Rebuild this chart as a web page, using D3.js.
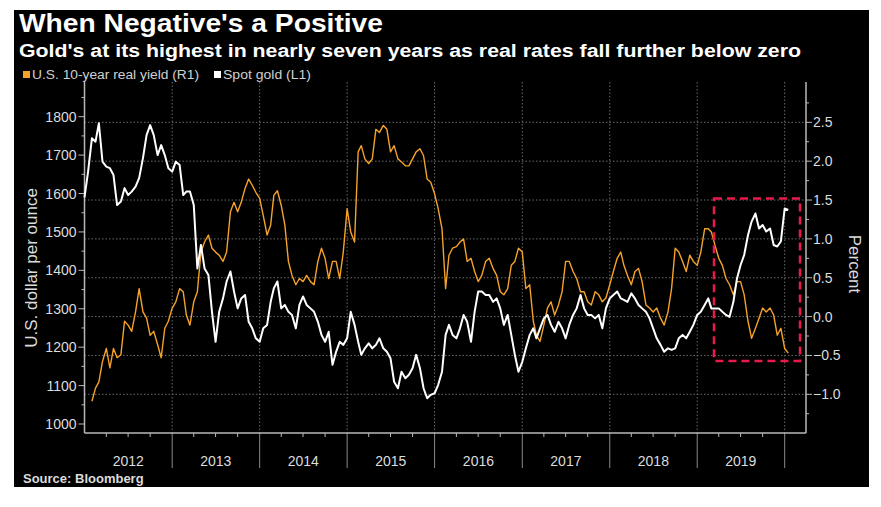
<!DOCTYPE html>
<html><head><meta charset="utf-8">
<script src="https://cdn.jsdelivr.net/npm/d3@7"></script>
<style>
html,body{margin:0;padding:0;background:#fff;}
svg{display:block;}
text{font-family:"Liberation Sans",Arial,sans-serif;}
</style></head><body>
<svg id="chart" width="881" height="507"></svg>
<script>
// ---------------- DATA ----------------
const titleText = "When Negative's a Positive";
const subtitleText = "Gold's at its highest in nearly seven years as real rates fall further below zero";
const sourceText = "Source: Bloomberg";
const seriesNames = ["U.S. 10-year real yield (R1)", "Spot gold (L1)"];
const seriesColors = ["#f5a22a", "#ffffff"];
const yearLabels = ["2012","2013","2014","2015","2016","2017","2018","2019"];
const goldTicks = [1000,1100,1200,1300,1400,1500,1600,1700,1800];
const yieldTicks = [-1.0,-0.5,0.0,0.5,1.0,1.5,2.0,2.5];
const leftAxisTitle = "U.S. dollar per ounce";
const rightAxisTitle = "Percent";

// semi-monthly observations (1st and 16th of each month)
const goldStart = "2012-01-01";
const goldValues = [
 1590,1657,1744,1735,1783,1683,1670,1666,1648,1570,1579,1614,1596,1605,1618,1640,1692,1752,1778,1752,1700,1726,1700,1666,
 1657,1683,1674,1596,1605,1605,1570,1405,1466,1405,1388,1292,1214,1292,1327,1371,1397,1345,1301,1327,1336,1266,1249,1223,
 1214,1249,1258,1318,1353,1371,1301,1310,1292,1284,1249,1310,1332,1310,1301,1292,1266,1232,1214,1240,1154,1188,1214,1206,
 1223,1292,1258,1214,1180,1197,1210,1197,1206,1223,1197,1188,1171,1110,1093,1136,1119,1128,1145,1180,1145,1093,1067,1076,
 1080,1102,1136,1232,1258,1232,1223,1249,1284,1266,1214,1292,1345,1345,1336,1336,1318,1327,1301,1258,1284,1232,1180,1136,
 1162,1197,1232,1249,1223,1249,1275,1284,1258,1240,1266,1249,1223,1258,1284,1301,1336,1301,1284,1284,1275,1284,1249,1301,
 1327,1336,1345,1327,1323,1318,1340,1327,1310,1301,1292,1275,1249,1223,1206,1188,1197,1193,1197,1223,1232,1223,1240,1258,
 1284,1292,1310,1327,1301,1301,1301,1292,1284,1279,1318,1379,1414,1440,1492,1527,1548,1509,1518,1501,1509,1466,1462,1475,
 1561,1557
];
const yieldStart = "2012-02-01";
const yieldValues = [
 -1.09,-0.92,-0.84,-0.58,-0.41,-0.66,-0.41,-0.53,-0.49,-0.06,-0.11,-0.19,0.06,0.36,0.06,-0.02,-0.24,-0.19,-0.36,-0.53,-0.15,-0.06,
 0.11,0.19,0.36,0.32,0.02,-0.11,0.19,0.32,0.83,0.96,1.05,0.88,0.83,0.79,0.71,0.83,1.35,1.47,1.35,1.47,1.65,1.77,1.69,1.60,
 1.52,1.30,1.05,1.18,1.56,1.62,1.43,1.18,0.71,0.53,0.41,0.49,0.45,0.53,0.45,0.41,0.71,0.88,0.75,0.49,0.71,0.71,0.49,0.83,
 1.39,1.09,0.96,2.12,2.20,2.03,1.97,2.03,2.41,2.37,2.46,2.41,2.12,2.20,2.03,1.99,1.94,1.94,2.03,2.12,2.16,2.07,1.77,1.73,
 1.58,1.39,1.13,0.36,0.79,0.88,0.90,0.96,1.00,0.71,0.75,0.58,0.45,0.53,0.71,0.75,0.62,0.53,0.32,0.28,0.36,0.66,0.71,0.88,
 0.83,0.36,0.41,-0.06,-0.24,-0.32,-0.11,0.11,0.19,0.02,0.15,0.32,0.71,0.71,0.58,0.49,0.32,0.32,0.19,0.15,0.32,0.28,0.19,0.24,
 0.41,0.58,0.75,0.83,0.66,0.53,0.41,0.58,0.62,0.45,0.15,0.11,0.06,0.11,-0.02,-0.11,0.06,0.36,0.88,0.83,0.71,0.58,0.79,0.71,
 0.66,0.83,1.13,1.13,1.09,0.92,0.75,0.66,0.49,0.41,0.28,0.45,0.45,0.28,-0.06,-0.28,-0.15,-0.02,0.11,0.06,0.11,0.02,-0.24,-0.15,
 -0.41,-0.47
];
// highlighted region (red dashed box)
const highlightDates = ["2019-03-12","2020-03-05"];
const highlightYield = [-0.57, 1.52];

// ---------------- HELPERS ----------------
const parse = d3.timeParse("%Y-%m-%d");
function semiMonthly(start, n){
  const s = parse(start); const out = [];
  for(let i=0;i<n;i++){
    const m = s.getMonth() + Math.floor(i/2);
    out.push(new Date(s.getFullYear(), m, i%2 ? 16 : 1));
  }
  return out;
}
const goldData = semiMonthly(goldStart, goldValues.length).map((d,i)=>({date:d, v:goldValues[i]}));
const yieldData = semiMonthly(yieldStart, yieldValues.length).map((d,i)=>({date:d, v:yieldValues[i]}));

// ---------------- LAYOUT ----------------
const svg = d3.select("#chart");
const L = 84.5, R = 806, T = 82, B = 433;

svg.append("rect").attr("x",14).attr("y",10).attr("width",855).attr("height",477).attr("fill","#000");

const x = d3.scaleTime().domain([new Date(2012,0,1), new Date(2020,2,30)]).range([L,R]);
const yG = d3.scaleLinear().domain([976.6, 1890.3]).range([B,T]);
const yY = d3.scaleLinear().domain([-1.498, 3.019]).range([B,T]);

// horizontal gridlines (right axis majors)
svg.append("g").selectAll("line").data(yieldTicks).join("line")
  .attr("x1",L).attr("x2",R).attr("y1",d=>yY(d)).attr("y2",d=>yY(d))
  .attr("stroke","#6a6a6a").attr("stroke-width",1).attr("stroke-dasharray","1.5,2");

// vertical year gridlines and separators
const yearStarts = yearLabels.map(y=>new Date(+y+1,0,1));
svg.append("g").selectAll("line").data(yearStarts).join("line")
  .attr("x1",d=>x(d)).attr("x2",d=>x(d)).attr("y1",T).attr("y2",B)
  .attr("stroke","#6a6a6a").attr("stroke-width",1).attr("stroke-dasharray","1.5,2");
svg.append("g").selectAll("line").data(yearStarts).join("line")
  .attr("x1",d=>x(d)).attr("x2",d=>x(d)).attr("y1",B).attr("y2",468)
  .attr("stroke","#8a8a8a").attr("stroke-width",1);

// x axis
const axisColor = "#b8b8b8", labelColor = "#dcdcdc";
svg.append("line").attr("x1",L).attr("x2",R).attr("y1",B).attr("y2",B).attr("stroke",axisColor).attr("stroke-width",1.5);
const quarters = d3.timeMonth.every(3).range(new Date(2012,0,1), new Date(2020,2,30)).filter(d=>d.getMonth()!==0);
svg.append("g").selectAll("line").data(quarters).join("line")
  .attr("x1",d=>x(d)).attr("x2",d=>x(d)).attr("y1",B).attr("y2",B+4).attr("stroke",axisColor);
svg.append("g").selectAll("text").data(yearLabels).join("text")
  .attr("x",d=>x(new Date(+d,6,2))).attr("y",466).attr("text-anchor","middle")
  .attr("font-size",14).attr("fill",labelColor).text(d=>d);

// left axis
svg.append("line").attr("x1",L).attr("x2",L).attr("y1",T).attr("y2",B).attr("stroke",axisColor).attr("stroke-width",1.5);
const goldMinor = d3.range(1050, 1900, 100);
svg.append("g").selectAll("line").data(goldTicks).join("line")
  .attr("x1",L-6).attr("x2",L).attr("y1",d=>yG(d)).attr("y2",d=>yG(d)).attr("stroke",axisColor);
svg.append("g").selectAll("line").data(goldMinor).join("line")
  .attr("x1",L-3).attr("x2",L).attr("y1",d=>yG(d)).attr("y2",d=>yG(d)).attr("stroke",axisColor);
svg.append("g").selectAll("text").data(goldTicks).join("text")
  .attr("x",L-8).attr("y",d=>yG(d)+5).attr("text-anchor","end")
  .attr("font-size",14).attr("fill",labelColor).text(d=>d);

// right axis
svg.append("line").attr("x1",R).attr("x2",R).attr("y1",T).attr("y2",B).attr("stroke",axisColor).attr("stroke-width",1.5);
const yieldMinor = [-1.25,-0.75,-0.25,0.25,0.75,1.25,1.75,2.25,2.75];
svg.append("g").selectAll("line").data(yieldTicks).join("line")
  .attr("x1",R).attr("x2",R+6).attr("y1",d=>yY(d)).attr("y2",d=>yY(d)).attr("stroke",axisColor);
svg.append("g").selectAll("line").data(yieldMinor).join("line")
  .attr("x1",R).attr("x2",R+3).attr("y1",d=>yY(d)).attr("y2",d=>yY(d)).attr("stroke",axisColor);
svg.append("g").selectAll("text").data(yieldTicks).join("text")
  .attr("x",R+7).attr("y",d=>yY(d)+5).attr("text-anchor","start")
  .attr("font-size",14).attr("fill",labelColor).text(d=>d3.format(".1f")(d));

// axis titles
svg.append("text").attr("transform","translate(37,268) rotate(-90)").attr("text-anchor","middle")
  .attr("font-size",17).attr("fill",labelColor).text(leftAxisTitle);
svg.append("text").attr("transform","translate(849,264) rotate(90)").attr("text-anchor","middle")
  .attr("font-size",17).attr("fill",labelColor).text(rightAxisTitle);

// lines
const lineY = d3.line().x(d=>x(d.date)).y(d=>yY(d.v));
const lineG = d3.line().x(d=>x(d.date)).y(d=>yG(d.v));
svg.append("path").datum(yieldData).attr("d",lineY).attr("fill","none")
  .attr("stroke",seriesColors[0]).attr("stroke-width",1.4).attr("stroke-linejoin","round");
svg.append("path").datum(goldData).attr("d",lineG).attr("fill","none")
  .attr("stroke",seriesColors[1]).attr("stroke-width",2).attr("stroke-linejoin","round");

// highlight box
const hx0 = x(parse(highlightDates[0])), hx1 = x(parse(highlightDates[1]));
const hy0 = yY(highlightYield[1]), hy1 = yY(highlightYield[0]);
svg.append("rect").attr("x",hx0).attr("y",hy0).attr("width",hx1-hx0).attr("height",hy1-hy0)
  .attr("fill","none").attr("stroke","#e8194b").attr("stroke-width",2.5).attr("stroke-dasharray","8,5");

// titles
svg.append("text").attr("x",19).attr("y",32).attr("font-size",26).attr("font-weight","bold")
  .attr("fill","#fff").attr("textLength",364).attr("lengthAdjust","spacingAndGlyphs").text(titleText);
svg.append("text").attr("x",19).attr("y",57).attr("font-size",18).attr("font-weight","bold")
  .attr("fill","#fff").attr("textLength",782).attr("lengthAdjust","spacingAndGlyphs").text(subtitleText);

// legend
const leg = svg.append("g");
leg.append("rect").attr("x",23).attr("y",71).attr("width",7).attr("height",7).attr("fill",seriesColors[0]);
leg.append("text").attr("x",32).attr("y",79).attr("font-size",12.5).attr("fill","#d0d0d0")
  .attr("textLength",167).attr("lengthAdjust","spacingAndGlyphs").text(seriesNames[0]);
leg.append("rect").attr("x",214).attr("y",71).attr("width",7).attr("height",7).attr("fill",seriesColors[1]);
leg.append("text").attr("x",223).attr("y",79).attr("font-size",12.5).attr("fill","#d0d0d0")
  .attr("textLength",88).attr("lengthAdjust","spacingAndGlyphs").text(seriesNames[1]);

// source
svg.append("text").attr("x",23).attr("y",483).attr("font-size",13).attr("font-weight","bold")
  .attr("fill","#dcdcdc").text(sourceText);
</script>
</body></html>
